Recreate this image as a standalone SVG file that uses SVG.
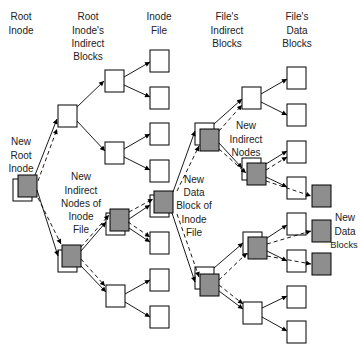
<svg xmlns="http://www.w3.org/2000/svg" width="360" height="344" viewBox="0 0 360 344">
<style>
.b{fill:#fff;stroke:#000;stroke-width:1}
.g{fill:#8e8e8e;stroke:#000;stroke-width:1}
.s{stroke:#000;stroke-width:0.9;fill:none;marker-end:url(#ah)}
.d{stroke:#000;stroke-width:0.9;fill:none;stroke-dasharray:4 3;marker-end:url(#ah)}
text{font-family:"Liberation Sans",Arial,sans-serif;font-size:10px;fill:#222;text-anchor:middle}
.sm{font-size:9.3px}
</style>
<defs>
<marker id="ah" viewBox="0 0 10 10" refX="10" refY="5" markerWidth="6" markerHeight="5" markerUnits="userSpaceOnUse" orient="auto">
<path d="M0,0L10,5L0,10z" fill="#000"/>
</marker>
</defs>
<rect width="360" height="344" fill="#fff"/>
<g id="labels">
<text x="21" y="20">Root</text><text x="21" y="33.5">Inode</text>
<text x="88" y="20">Root</text><text x="88" y="33.5">Inode's</text><text x="88" y="47">Indirect</text><text x="88" y="60">Blocks</text>
<text x="159" y="20">Inode</text><text x="159" y="33.5">File</text>
<text x="227" y="20">File's</text><text x="227" y="33.5">Indirect</text><text x="227" y="47">Blocks</text>
<text x="297" y="20">File's</text><text x="297" y="33.5">Data</text><text x="297" y="47">Blocks</text>
<text x="21" y="145">New</text><text x="21" y="158.5">Root</text><text x="21" y="172">Inode</text>
<text x="81" y="180">New</text><text x="81" y="193.5">Indirect</text><text x="81" y="207">Nodes of</text><text x="81" y="220">Inode</text><text x="81" y="233">File</text>
<text x="194" y="183">New</text><text x="194" y="196">Data</text><text x="194" y="209">Block of</text><text x="194" y="222.5">Inode</text><text x="194" y="236">File</text>
<text x="246" y="129">New</text><text x="246" y="143">Indirect</text><text x="246" y="156">Nodes</text>
<text x="345" y="221">New</text><text x="345" y="234.5">Data</text><text class="sm" x="344" y="248">Blocks</text>
</g>
<g id="root"><rect class="b" x="13" y="179" width="19" height="22"/><rect class="g" x="18" y="175" width="19" height="22"/></g>
<g id="c1top"><rect class="b" x="58" y="105" width="19" height="22"/></g>
<g id="c1bot"><rect class="b" x="58" y="250" width="19" height="22"/><rect class="g" x="62" y="245" width="19" height="22"/></g>
<g id="c2a"><rect class="b" x="105" y="70" width="19" height="22"/></g>
<g id="c2b"><rect class="b" x="105" y="142" width="19" height="22"/></g>
<g id="c2c"><rect class="b" x="106" y="213" width="19" height="22"/><rect class="g" x="110" y="209" width="19" height="22"/></g>
<g id="c2d"><rect class="b" x="106" y="285" width="19" height="22"/></g>
<g id="c3a"><rect class="b" x="150" y="50" width="19" height="22"/></g>
<g id="c3b"><rect class="b" x="150" y="87" width="19" height="22"/></g>
<g id="c3c"><rect class="b" x="150" y="123" width="19" height="22"/></g>
<g id="c3d"><rect class="b" x="150" y="160" width="19" height="22"/></g>
<g id="c3e"><rect class="b" x="150" y="195" width="19" height="22"/><rect class="g" x="154" y="191" width="19" height="22"/></g>
<g id="c3f"><rect class="b" x="150" y="232" width="19" height="22"/></g>
<g id="c3g"><rect class="b" x="150" y="269" width="19" height="22"/></g>
<g id="c3h"><rect class="b" x="150" y="306" width="19" height="22"/></g>
<g id="c4top"><rect class="b" x="195" y="123" width="19" height="22"/><rect class="g" x="200" y="129" width="19" height="22"/></g>
<g id="c4bot"><rect class="b" x="195" y="267" width="19" height="22"/><rect class="g" x="200" y="274" width="19" height="22"/></g>
<g id="c5a"><rect class="b" x="242" y="87" width="19" height="22"/></g>
<g id="c5b"><rect class="b" x="242" y="158" width="19" height="22"/><rect class="g" x="247" y="163" width="19" height="22"/></g>
<g id="c5c"><rect class="b" x="243" y="232" width="19" height="22"/><rect class="g" x="248" y="237" width="19" height="22"/></g>
<g id="c5d"><rect class="b" x="243" y="302" width="19" height="22"/></g>
<g id="d1"><rect class="b" x="287" y="67" width="19" height="22"/></g>
<g id="d2"><rect class="b" x="287" y="104" width="19" height="22"/></g>
<g id="d3"><rect class="b" x="287" y="141" width="19" height="22"/></g>
<g id="d4"><rect class="b" x="287" y="177" width="19" height="22"/></g>
<g id="d5"><rect class="b" x="287" y="213" width="19" height="22"/></g>
<g id="d6"><rect class="b" x="287" y="250" width="19" height="22"/></g>
<g id="d7"><rect class="b" x="287" y="286" width="19" height="22"/></g>
<g id="d8"><rect class="b" x="287" y="321" width="19" height="22"/></g>
<g id="n1"><rect class="g" x="312" y="185" width="19" height="22"/></g>
<g id="n2"><rect class="g" x="312" y="220" width="19" height="22"/></g>
<g id="n3"><rect class="g" x="312" y="253" width="19" height="22"/></g>
<g id="connectors">
<line class="s" x1="35" y1="175" x2="57" y2="119"/>
<line class="d" x1="38" y1="181" x2="57" y2="129"/>
<line class="s" x1="37" y1="190" x2="58" y2="256"/>
<line class="d" x1="38" y1="198" x2="61" y2="244"/>
<line class="s" x1="77" y1="107" x2="104" y2="81"/>
<line class="s" x1="77" y1="121" x2="105" y2="151"/>
<line class="s" x1="124" y1="77" x2="150" y2="62"/>
<line class="s" x1="124" y1="85" x2="150" y2="97"/>
<line class="s" x1="124" y1="149" x2="150" y2="134"/>
<line class="s" x1="124" y1="157" x2="150" y2="170"/>
<line class="s" x1="81" y1="251" x2="106" y2="222"/>
<line class="d" x1="81" y1="247" x2="109" y2="215"/>
<line class="d" x1="81" y1="259" x2="105" y2="286"/>
<line class="s" x1="81" y1="266" x2="106" y2="292"/>
<line class="s" x1="129" y1="219" x2="150" y2="205"/>
<line class="d" x1="129" y1="212" x2="153" y2="199"/>
<line class="s" x1="129" y1="228" x2="150" y2="242"/>
<line class="d" x1="128" y1="222" x2="150" y2="237"/>
<line class="s" x1="125" y1="294" x2="150" y2="280"/>
<line class="s" x1="125" y1="302" x2="150" y2="317"/>
<line class="s" x1="173" y1="192" x2="195" y2="131"/>
<line class="d" x1="177" y1="191" x2="199" y2="146"/>
<line class="s" x1="172" y1="213" x2="195" y2="282"/>
<line class="d" x1="177" y1="214" x2="199" y2="277"/>
<line class="s" x1="214" y1="124" x2="242" y2="99"/>
<line class="d" x1="219" y1="131" x2="242" y2="105"/>
<line class="s" x1="219" y1="143" x2="242" y2="168"/>
<line class="d" x1="219" y1="149" x2="246" y2="173"/>
<line class="s" x1="261" y1="94" x2="287" y2="79"/>
<line class="s" x1="261" y1="102" x2="287" y2="115"/>
<line class="s" x1="266" y1="164" x2="287" y2="151"/>
<line class="d" x1="266" y1="170" x2="287" y2="157"/>
<line class="s" x1="266" y1="177" x2="287" y2="187"/>
<line class="d" x1="266" y1="181" x2="311" y2="196"/>
<line class="s" x1="214" y1="268" x2="243" y2="243"/>
<line class="d" x1="219" y1="280" x2="247" y2="253"/>
<line class="s" x1="219" y1="291" x2="243" y2="309"/>
<line class="d" x1="219" y1="285" x2="243" y2="304"/>
<line class="s" x1="267" y1="238" x2="287" y2="225"/>
<line class="d" x1="267" y1="244" x2="311" y2="231"/>
<line class="s" x1="267" y1="251" x2="287" y2="261"/>
<line class="d" x1="267" y1="256" x2="311" y2="264"/>
<line class="s" x1="262" y1="308" x2="287" y2="296"/>
<line class="s" x1="262" y1="317" x2="287" y2="331"/>
</g>
</svg>
